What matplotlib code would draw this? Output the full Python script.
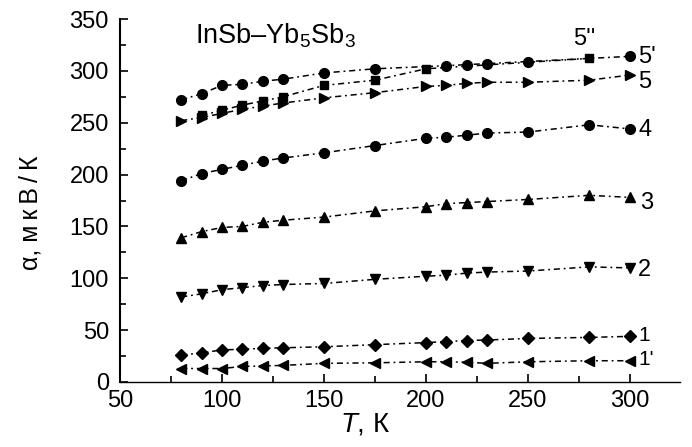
import matplotlib
matplotlib.use("Agg")
import matplotlib.pyplot as plt
from matplotlib.ticker import MultipleLocator

plt.rcParams['font.family'] = ['Liberation Sans', 'DejaVu Sans']
plt.rcParams['mathtext.fontset'] = 'custom'
plt.rcParams['mathtext.rm'] = 'Liberation Sans'
plt.rcParams['mathtext.it'] = 'Liberation Sans:italic'

# ---- data ----
T_all = [80, 90, 100, 110, 120, 130, 150, 175, 200, 210, 220, 230, 250, 280, 300]

T_5p = [80, 90, 100, 110, 120, 130, 150, 175, 210, 220, 230, 250, 300]
a_5p = [272, 278, 286, 287, 290, 292, 298, 302, 305, 306, 307, 309, 314]

T_5pp = [90, 100, 110, 120, 130, 150, 175, 200, 280]
a_5pp = [257, 262, 267, 271, 275, 286, 291, 302, 312]

T_5 = [80, 90, 100, 110, 120, 130, 150, 175, 200, 210, 220, 230, 250, 280, 300]
a_5 = [252, 255, 259, 263, 266, 269, 274, 279, 285, 286, 288, 289, 289, 291, 296]

a_4 = [194, 201, 205, 209, 213, 216, 221, 228, 235, 236, 238, 240, 241, 248, 244]
a_3 = [139, 145, 149, 150, 154, 156, 159, 165, 169, 172, 173, 174, 176, 180, 178]
a_2 = [82, 85, 89, 91, 93, 94, 95, 99, 102, 103, 105, 106, 107, 111, 110]
a_1 = [26, 28, 31, 31.5, 32.5, 33, 34, 36, 38, 39, 40, 40.5, 42, 43, 44]
a_1p = [13, 13, 13, 15, 15.5, 16, 18, 18.5, 19.5, 19.5, 19, 18, 19.5, 20.5, 20.5]

labels = ["5''", "5'", "5", "4", "3", "2", "1", "1'"]
label_T = [272, 304, 304, 304, 305, 304, 304, 304]
label_a = [331, 313, 289, 243, 173, 108, 45, 22]

x_ticks = [50, 100, 150, 200, 250, 300]
y_ticks = [0, 50, 100, 150, 200, 250, 300, 350]

# ---- figure ----
fig = plt.figure(figsize=(6.92, 4.47), dpi=100)
ax = fig.add_axes([120/692, 65/447, 560/692, 363/447])

ls = (0, (4, 2.5, 1.2, 2.5))
kw = dict(color='black', lw=1.1, linestyle=ls)
ms = 7
ax.plot(T_5p, a_5p, marker='o', ms=ms, **kw)
ax.plot(T_5pp, a_5pp, marker='s', ms=6, **kw)
ax.plot(T_5, a_5, marker='>', ms=ms, **kw)
ax.plot(T_all, a_4, marker='o', ms=ms, **kw)
ax.plot(T_all, a_3, marker='^', ms=ms, **kw)
ax.plot(T_all, a_2, marker='v', ms=ms, **kw)
ax.plot(T_all, a_1, marker='D', ms=6, **kw)
ax.plot(T_all, a_1p, marker='<', ms=ms, **kw)

for lab, tx, ay in zip(labels, label_T, label_a):
    fs = 15 if lab.startswith("1") else 17
    ax.text(tx, ay, lab, fontsize=fs, ha='left', va='center')

ax.text(87, 334, "InSb–Yb$_5$Sb$_3$", fontsize=19.5, ha='left', va='center')

ax.set_xlim(50, 324.5)
ax.set_ylim(0, 350)
ax.set_xticks(x_ticks)
ax.set_yticks(y_ticks)
ax.xaxis.set_minor_locator(MultipleLocator(25))
ax.yaxis.set_minor_locator(MultipleLocator(25))
ax.tick_params(which='both', direction='in', labelsize=17, width=1.2)
ax.tick_params(which='major', length=6)
ax.tick_params(which='minor', length=4)
ax.tick_params(axis='y', pad=8)
ax.tick_params(axis='x', pad=6)
for s in ['top', 'right']:
    ax.spines[s].set_visible(False)
ax.spines['left'].set_linewidth(1.5)
ax.spines['bottom'].set_linewidth(1.0)

ax.set_xlabel("$\\it{T}$, К", fontsize=20, labelpad=0)
ax.xaxis.set_label_coords(0.4375, -0.118)
ax.xaxis.label.set_va('center')
thin = "\u2009"
ax.set_ylabel("α," + " " + thin.join("мкВ/К"), fontsize=18)
ax.yaxis.set_label_coords(-0.16, 0.466)
ax.yaxis.label.set_va('center')

fig.savefig("out.png", dpi=100)
